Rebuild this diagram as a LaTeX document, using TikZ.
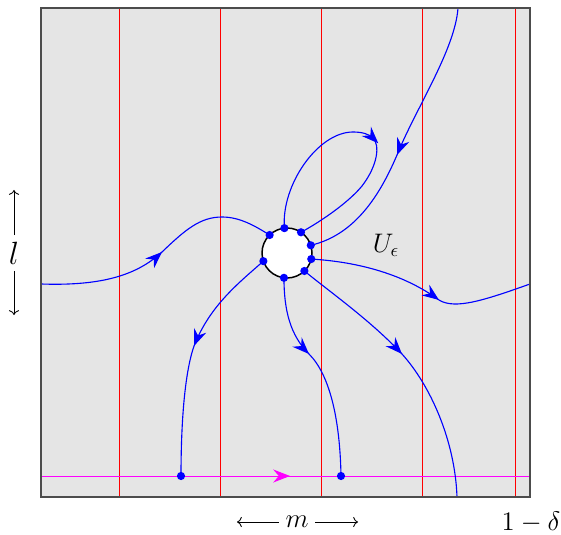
\documentclass[tikz,border=0pt]{standalone}
\usetikzlibrary{arrows.meta,decorations.markings}
\definecolor{magline}{RGB}{255,0,255}
\definecolor{flowblue}{RGB}{0,0,255}
\definecolor{gridred}{RGB}{255,0,0}
\begin{document}
\begin{tikzpicture}[x=0.537pt,y=-0.537pt,
  flow/.style={flowblue, line width=0.6pt},
  tipend/.style={postaction={decorate},decoration={markings,
     mark=at position 0.9999 with {\arrow{Stealth[length=9pt,width=7pt,inset=3pt]}}}},
  tipshift/.style={postaction={decorate},decoration={markings,
     mark=at position 0.9999 with {\arrow[xshift=4pt]{Stealth[length=9pt,width=7pt,inset=3pt]}}}},
  dot/.style={circle, fill=flowblue, inner sep=0pt, minimum size=4.4pt},
  grid line/.style={gridred, line width=0.4pt},
  label arrow/.style={-{To}, line width=0.45pt}]
\useasboundingbox (0,0) rectangle (561,535);
% square
\fill[gray!20] (41,8) rectangle (530,497);
\foreach \x in {119,220,321,422,515}
  \draw[grid line] (\x,8) -- (\x,497);
% magenta line
\coordinate (ml) at (41,476);
\coordinate (mr) at (530,476);
\coordinate (mt) at (290,476);
\draw[magline, line width=0.5pt, tipend] (ml) -- (mt);
\draw[magline, line width=0.5pt] (mt) -- (mr);
% circle and dots
\coordinate (c) at (287,253);
\path (c) ++(-134:25) coordinate (d1);
\path (c) ++(-96:25) coordinate (d2);
\path (c) ++(-56:25) coordinate (d3);
\path (c) ++(-18:25) coordinate (d4);
\path (c) ++(14:25) coordinate (d5);
\path (c) ++(46:25) coordinate (d6);
\path (c) ++(97:25) coordinate (d7);
\path (c) ++(161:25) coordinate (d8);
\coordinate (b1) at (181,476);
\coordinate (b2) at (341,476);
% C1
\coordinate (l1) at (41,284);
\coordinate (a1) at (162,252);
\draw[flow, tipend] (l1) .. controls (100,286) and (136,276) .. (a1);
\draw[flow] (a1) .. controls (185,230) and (200,217) .. (222,217) .. controls (240,217) and (255,226) .. (d1);
% C2 loop
\coordinate (a2) at (373,138);
\draw[flow, tipshift] (d2) .. controls (281,185) and (318,132) .. (353,132) .. controls (362,132) and (369,134) .. (a2);
\draw[flow] (a2) .. controls (380,145) and (378,165) .. (362,186) .. controls (348,203) and (320,222) .. (d3);
% C3
\coordinate (t3) at (458,8);
\coordinate (a3) at (397,155);
\draw[flow, tipend] (t3) .. controls (455,50) and (415,110) .. (a3);
\draw[flow] (a3) .. controls (380,195) and (355,235) .. (d4);
% C4
\coordinate (r4) at (530,284);
\coordinate (a4) at (439,300);
\draw[flow, tipend] (d5) .. controls (360,262) and (405,275) .. (a4);
\draw[flow] (a4) .. controls (455,310) and (485,300) .. (r4);
% C5
\coordinate (e5) at (457,497);
\coordinate (a5) at (402,354);
\draw[flow, tipend] (d6) .. controls (330,292) and (370,320) .. (a5);
\draw[flow] (a5) .. controls (430,385) and (455,440) .. (e5);
% C6
\coordinate (a6) at (309,354);
\draw[flow, tipend] (d7) .. controls (284,310) and (290,335) .. (a6);
\draw[flow] (a6) .. controls (330,375) and (340,420) .. (b2);
% C7
\coordinate (a7) at (194,346);
\draw[flow, tipend] (d8) .. controls (240,282) and (210,305) .. (a7);
\draw[flow] (a7) .. controls (185,372) and (181,420) .. (b1);
% circle
\draw[black, line width=0.8pt, fill=white] (c) circle[radius=25];
\foreach \p in {d1,d2,d3,d4,d5,d6,d7,d8,b1,b2}
  \node[dot] (n\p) at (\p) {};
% frame
\draw[black!70, line width=1pt] (41,8) rectangle (530,497);
% labels
\node (U) at (386,245) {\Large $U_\epsilon$};
\node (L) at (14,253) {\LARGE $l$};
\coordinate (lu) at (14,190);
\coordinate (ld) at (14,315);
\draw[label arrow] (L.north) -- (lu);
\draw[label arrow] (L.south) -- (ld);
\node (M) at (297,522) {\Large $m$};
\coordinate (ml2) at (237,522);
\coordinate (mr2) at (358,522);
\draw[label arrow] (M.west) -- (ml2);
\draw[label arrow] (M.east) -- (mr2);
\node (D) at (531,522) {\Large $1-\delta$};
\end{tikzpicture}
\end{document}
